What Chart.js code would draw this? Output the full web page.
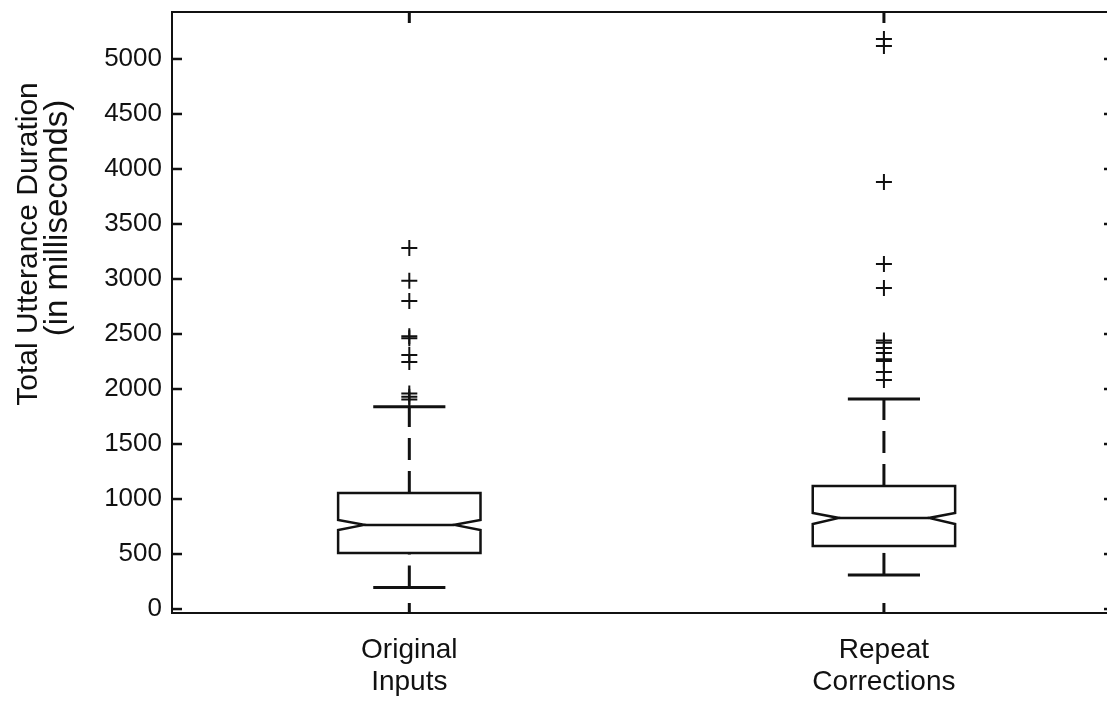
<!DOCTYPE html>
<html>
<head>
<meta charset="utf-8">
<script src="https://cdn.jsdelivr.net/npm/chart.js@4.4.1/dist/chart.umd.min.js"></script>
<style>
  html, body { margin: 0; padding: 0; background: #fff; }
  #wrap { width: 1109px; height: 702px; position: relative; }
</style>
</head>
<body>
<div id="wrap"><canvas id="chart"></canvas></div>
<script>
// Utterance durations, one notched box per group
const categories = [['Original', 'Inputs'], ['Repeat', 'Corrections']];
const positions = [1, 2];
const lowerWhisker = [195, 310];
const q1 = [510, 573];
const median = [765, 828];
const q3 = [1055, 1118];
const upperWhisker = [1838, 1910];
const notchLow = [718, 773];
const notchHigh = [810, 873];

const outliersOriginal = [3282, 2985, 2800, 2480, 2462, 2310, 2245, 1960, 1930, 1905];
const outliersRepeat = [5182, 5118, 3882, 3136, 2918, 2440, 2420, 2373, 2327, 2270, 2255, 2155, 2082];

const yTicks = [0, 500, 1000, 1500, 2000, 2500, 3000, 3500, 4000, 4500, 5000];
const yTitle = ['Total Utterance Duration', '(in milliseconds)'];

const INK = '#111';
const FONT = '"Liberation Sans", Arial, Helvetica, sans-serif';
const BOX_HALF = 0.15;    // half box width in x units
const NOTCH_IN = 0.055;   // how far the notch cuts in
const CAP_HALF = 0.076;   // half whisker-cap width

function seg(ctx, x1, y1, x2, y2) {
    ctx.beginPath();
    ctx.moveTo(x1, y1);
    ctx.lineTo(x2, y2);
    ctx.stroke();
}

// boxes, notches, dashed whiskers and caps
const boxPlot = {
    id: 'boxPlot',
    afterDatasetsDraw(chart) {
        const { ctx, scales: { x, y } } = chart;
        ctx.save();
        ctx.strokeStyle = INK;
        ctx.lineCap = 'butt';
        positions.forEach((p, i) => {
            const cx = x.getPixelForValue(p);
            const l = x.getPixelForValue(p - BOX_HALF);
            const r = x.getPixelForValue(p + BOX_HALF);
            const li = x.getPixelForValue(p - BOX_HALF + NOTCH_IN);
            const ri = x.getPixelForValue(p + BOX_HALF - NOTCH_IN);
            const yq1 = y.getPixelForValue(q1[i]);
            const yq3 = y.getPixelForValue(q3[i]);
            const ymed = y.getPixelForValue(median[i]);
            const ynl = y.getPixelForValue(notchLow[i]);
            const ynh = y.getPixelForValue(notchHigh[i]);
            const ywl = y.getPixelForValue(lowerWhisker[i]);
            const ywh = y.getPixelForValue(upperWhisker[i]);

            ctx.lineWidth = 3;
            ctx.setLineDash([22, 11]);
            seg(ctx, cx, ywl, cx, yq1);
            seg(ctx, cx, yq3, cx, ywh);
            ctx.setLineDash([]);

            const cl = x.getPixelForValue(p - CAP_HALF);
            const cr = x.getPixelForValue(p + CAP_HALF);
            seg(ctx, cl, ywl, cr, ywl);
            seg(ctx, cl, ywh, cr, ywh);

            ctx.lineWidth = 2.5;
            ctx.lineJoin = 'miter';
            ctx.beginPath();
            ctx.moveTo(l, yq3);
            ctx.lineTo(r, yq3);
            ctx.lineTo(r, ynh);
            ctx.lineTo(ri, ymed);
            ctx.lineTo(r, ynl);
            ctx.lineTo(r, yq1);
            ctx.lineTo(l, yq1);
            ctx.lineTo(l, ynl);
            ctx.lineTo(li, ymed);
            ctx.lineTo(l, ynh);
            ctx.closePath();
            ctx.stroke();
            seg(ctx, li, ymed, ri, ymed);
        });
        ctx.restore();
    }
};

function drawTitleLine(ctx, text, cx, cy, size) {
    ctx.save();
    ctx.fillStyle = INK;
    ctx.textAlign = 'center';
    ctx.textBaseline = 'middle';
    ctx.font = size + 'px ' + FONT;
    ctx.translate(cx, cy);
    ctx.rotate(-Math.PI / 2);
    ctx.fillText(text, 0, 0);
    ctx.restore();
}

// axis frame with inward ticks, plus the two-line y title
const frame = {
    id: 'frame',
    afterDraw(chart) {
        const { ctx, chartArea: a, scales: { x, y } } = chart;
        ctx.save();
        ctx.strokeStyle = INK;
        ctx.lineWidth = 2;
        ctx.beginPath();
        ctx.moveTo(a.right, a.top);
        ctx.lineTo(a.left, a.top);
        ctx.lineTo(a.left, a.bottom);
        ctx.lineTo(a.right, a.bottom);
        ctx.stroke();

        ctx.lineWidth = 2.5;
        y.ticks.forEach(t => {
            const py = y.getPixelForValue(t.value);
            seg(ctx, a.left, py, a.left + 10, py);
            seg(ctx, a.right - 3, py, a.right, py);
        });
        ctx.lineWidth = 3;
        x.ticks.forEach(t => {
            const px = x.getPixelForValue(t.value);
            seg(ctx, px, a.bottom, px, a.bottom - 10);
            seg(ctx, px, a.top, px, a.top + 11);
        });
        ctx.restore();

        drawTitleLine(ctx, yTitle[0], 29, 244, 30);
        drawTitleLine(ctx, yTitle[1], 58, 218, 33);
    }
};

const outlierStyle = {
    pointStyle: 'cross',
    pointRadius: 8,
    pointBorderWidth: 2,
    borderColor: INK,
    backgroundColor: INK,
    showLine: false
};

new Chart(document.getElementById('chart'), {
    type: 'scatter',
    data: {
        datasets: [
            { label: 'Original Inputs', data: outliersOriginal.map(v => ({ x: positions[0], y: v })), ...outlierStyle },
            { label: 'Repeat Corrections', data: outliersRepeat.map(v => ({ x: positions[1], y: v })), ...outlierStyle }
        ]
    },
    options: {
        responsive: true,
        maintainAspectRatio: false,
        animation: false,
        layout: { autoPadding: false, padding: { left: 0, right: 2, top: 12, bottom: 0 } },
        plugins: { legend: { display: false }, tooltip: { enabled: false } },
        scales: {
            x: {
                type: 'linear',
                min: 0.5,
                max: 2.47,
                afterBuildTicks: s => { s.ticks = positions.map(v => ({ value: v })); },
                afterFit: s => { s.height = 89; s.paddingLeft = 0; s.paddingRight = 0; },
                grid: { display: false, drawTicks: false },
                border: { display: false },
                ticks: {
                    padding: 21,
                    color: INK,
                    font: { family: FONT, size: 28, lineHeight: 1.15 },
                    maxRotation: 0,
                    callback: v => categories[positions.indexOf(v)]
                }
            },
            y: {
                min: -36,
                max: 5427,
                afterBuildTicks: s => { s.ticks = yTicks.map(v => ({ value: v })); },
                afterFit: s => { s.width = 172; s.paddingTop = 0; s.paddingBottom = 0; },
                grid: { display: false, drawTicks: false },
                border: { display: false },
                ticks: {
                    padding: 10,
                    color: INK,
                    font: { family: FONT, size: 26 },
                    callback: v => String(v)
                }
            }
        }
    },
    plugins: [boxPlot, frame]
});
</script>
</body>
</html>
